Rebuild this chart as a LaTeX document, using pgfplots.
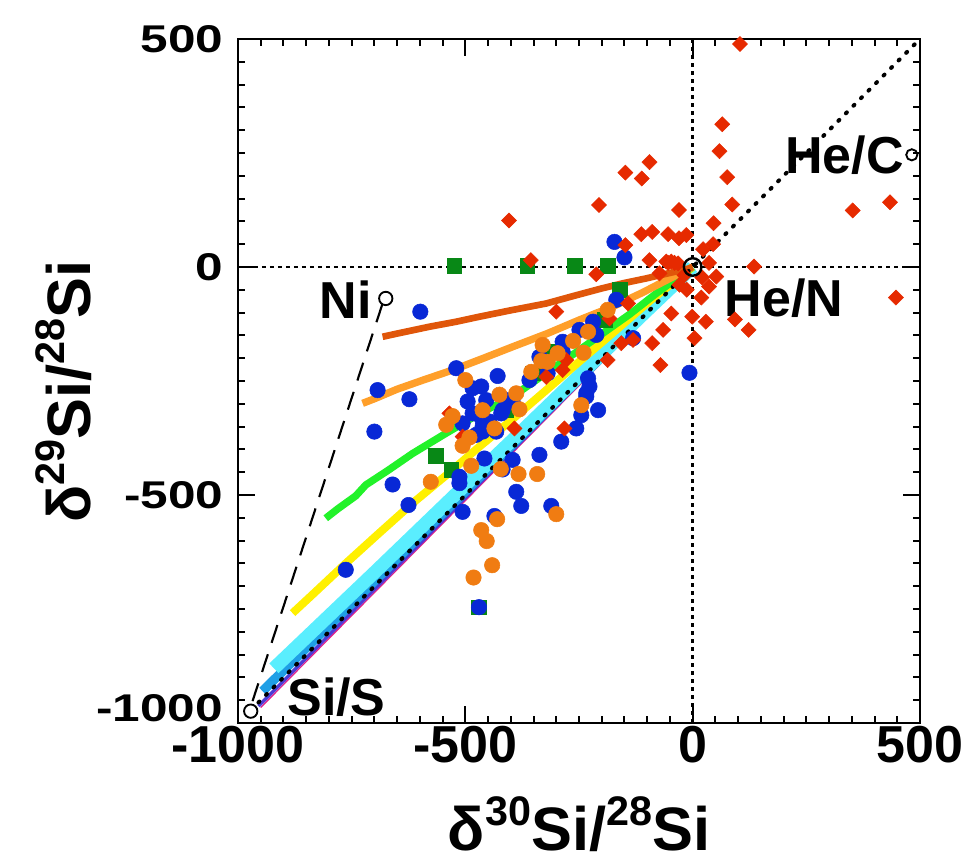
\documentclass[border=0pt]{standalone}
\usepackage{fontspec}
\setmainfont{Liberation Sans}
\usepackage{pgfplots}
\pgfplotsset{compat=1.18}
\usetikzlibrary{calc}
\definecolor{redc}{RGB}{230,42,0}
\definecolor{bluec}{RGB}{8,40,214}
\definecolor{orangec}{RGB}{240,124,18}
\definecolor{greenc}{RGB}{8,136,22}
\definecolor{ldorange}{RGB}{224,86,10}
\definecolor{lorange}{RGB}{255,159,42}
\definecolor{lgreen}{RGB}{34,242,42}
\definecolor{lyellow}{RGB}{255,240,0}
\definecolor{lcyan}{RGB}{90,238,254}
\definecolor{lblue}{RGB}{31,159,230}
\definecolor{lpurple}{RGB}{74,60,214}
\definecolor{lmagenta}{RGB}{224,32,138}

\newcommand{\tickfont}{\fontsize{39pt}{39pt}\selectfont\bfseries}
\newcommand{\yfont}{\fontsize{29pt}{29pt}\selectfont\bfseries}
\newcommand{\labfont}{\fontsize{46pt}{46pt}\selectfont\bfseries}
\newcommand{\annfont}{\fontsize{39pt}{39pt}\selectfont\bfseries}
\newcommand{\isup}[1]{\raisebox{0.42em}{\fontsize{31pt}{31pt}\selectfont #1}}
\newcommand{\wide}[1]{\scalebox{1.28}[1]{#1}}

\begin{document}
\begin{tikzpicture}
\begin{axis}[
    scale only axis, width=511.5pt, height=513pt,
    xmin=-1000, xmax=500, ymin=-1000, ymax=500,
    xtick={-1000,-500,0,500},
    ytick={-1000,-500,0,500},
    xticklabels={-1000,-500,0,500},
    yticklabels={\raisebox{11pt}[\height][\depth]{\wide{-1000}},\wide{-500},\wide{0},\wide{500}},
    minor x tick num=9, minor y tick num=9,
    tick pos=both, tick align=inside,
    major tick length=12.75pt, minor tick length=5.5pt,
    every tick/.style={black, line width=1.5pt},
    axis line style={line width=2.2pt},
    xticklabel style={font=\tickfont, anchor=center, inner sep=0pt, yshift=-16pt},
    yticklabel style={font=\yfont, anchor=east, inner sep=0pt, xshift=-11pt},
    xlabel={δ\isup{30}Si/\isup{28}Si},
    ylabel={δ\isup{29}Si/\isup{28}Si},
    xlabel style={font=\labfont, at={(axis description cs:0.5,0)}, anchor=base, yshift=-96pt},
    ylabel style={font=\labfont, at={(axis description cs:-0.217,0.484)}, anchor=base},
    clip=false,
]
\coordinate (SW) at (rel axis cs:0,0);
\coordinate (NE) at (rel axis cs:1,1);

% reference lines
\addplot[black, line width=2pt, dash pattern=on 3pt off 3pt] coordinates {(-1000,0) (500,0)};
\addplot[black, line width=2pt, dash pattern=on 3pt off 3pt] coordinates {(0,-1000) (0,500)};

% green squares
\addplot[only marks, mark=square*, mark size=5.5pt, mark options={fill=greenc, draw=greenc}] coordinates {
(-524,2) (-364,2) (-260,2) (-187,2) (-161,-50) (-194,-116) (-315,-186) (-352,-233)
(-410,-314) (-565,-414) (-531,-445) (-470,-746)
};

% blue circles
\addplot[only marks, mark=*, mark size=5.8pt, mark options={fill=bluec, draw=bluec}] coordinates {
(-599,-98) (-693,-270) (-623,-290) (-700,-361) (-660,-477) (-625,-522) (-763,-664)
(-150,21) (-172,55)
(-520,-222) (-429,-239) (-465,-262) (-484,-266) (-495,-295) (-484,-321) (-462,-336)
(-447,-339) (-432,-361) (-462,-361) (-476,-368) (-506,-343) (-418,-314) (-396,-295)
(-337,-197) (-319,-233) (-286,-164) (-249,-138) (-219,-120) (-212,-149) (-168,-72)
(-131,-156) (-230,-244) (-234,-277) (-245,-325) (-208,-314) (-256,-354) (-289,-383)
(-337,-412) (-396,-423) (-388,-493) (-458,-420) (-513,-460) (-7,-232)
(-418,-444) (-513,-474) (-377,-524) (-311,-524) (-506,-537) (-436,-546) (-470,-746)
(-454,-292) (-469,-325) (-421,-321) (-462,-350) (-359,-248) (-286,-186) (-227,-262)
(-234,-284) (-410,-292)
};

% red diamonds
\addplot[only marks, mark=square*, mark size=4pt, mark options={rotate=45, fill=redc, draw=redc}] coordinates {
(104,489) (65,313) (59,254) (76,197) (87,137) (46,96) (45,50) (23,39) (36,9) (135,1)
(52,-21) (36,-43) (21,-23) (19,-67) (29,-120) (93,-115) (123,-138) (352,124) (434,142)
(447,-67)
(-95,230) (-148,207) (-112,194) (-206,136) (-30,125) (-113,72) (-89,77) (-54,72)
(-30,63) (-14,70) (-148,48) (-95,15) (-54,9) (-40,9) (-212,-16) (-73,-14)
(-404,102) (-356,15) (-300,-98)
(-13,-50) (-47,-102) (-1,-109) (-65,-138) (4,-156) (-89,-167) (-131,-160) (-71,-215)
(-187,-204) (-142,-80) (-183,-113)
(-278,-204) (-286,-226) (-322,-241) (-282,-354) (-535,-321) (-506,-372) (-392,-354)
(-157,-167)
(-58,12) (-47,12) (-32,8) (-18,-18) (-29,-39)
};

% orange circles
\addplot[only marks, mark=*, mark size=5.8pt, mark options={fill=orangec, draw=orangec}] coordinates {
(-330,-171) (-230,-142) (-263,-162) (-187,-94) (-240,-188) (-297,-189) (-333,-206)
(-319,-208) (-355,-230) (-500,-248) (-425,-280) (-462,-314) (-528,-327) (-542,-346)
(-436,-354) (-491,-374) (-506,-392) (-388,-277) (-381,-312) (-245,-303) (-576,-471)
(-487,-436) (-422,-443) (-383,-454) (-342,-454) (-430,-553) (-300,-542) (-465,-577)
(-453,-601) (-441,-654) (-482,-681)
};

% model lines
\addplot[lmagenta, line width=1pt] coordinates {(-950,-966) (0,-8)};
\addplot[lpurple, line width=2.5pt] coordinates {(-955,-963) (0,-4)};
\addplot[lblue, line width=7pt] coordinates {(-946,-930) (-700,-689) (-500,-492) (-300,-295) (-100,-98) (0,0)};
\addplot[lcyan, line width=10pt] coordinates {(-921,-880) (-800,-765) (-700,-670) (-600,-574) (-500,-478) (-400,-383) (-300,-287) (-200,-191) (-100,-95) (0,0)};
\addplot[lyellow, line width=6pt] coordinates {(-880,-759) (-840,-722) (-763,-650) (-690,-584) (-616,-518) (-540,-455) (-469,-394) (-400,-337) (-322,-270) (-250,-208) (-176,-145) (-95,-75) (-40,-32) (0,0)};
\addplot[lgreen, line width=5.5pt] coordinates {(-807,-551) (-780,-530) (-741,-502) (-719,-478) (-670,-446) (-616,-409) (-543,-365) (-470,-322) (-396,-284) (-330,-238) (-249,-182) (-190,-140) (-139,-104) (-80,-58) (-30,-21) (0,0)};
\addplot[lorange, line width=5.5pt] coordinates {(-726,-299) (-700,-289) (-650,-268) (-590,-247) (-528,-226) (-460,-200) (-396,-175) (-320,-146) (-249,-116) (-176,-87) (-110,-56) (-50,-25) (-14,-7) (0,0)};
\addplot[ldorange, line width=5pt] coordinates {(-682,-153) (-650,-146) (-579,-131) (-520,-120) (-469,-109) (-400,-95) (-322,-80) (-260,-63) (-200,-47) (-150,-35) (-102,-25) (-50,-13) (-7,-3) (0,0)};

% 1:1 line and Ni mixing line
\addplot[black, line width=3pt, line cap=round, dash pattern=on 1pt off 7pt] coordinates {(-955,-955) (500,500)};
\addplot[black, line width=1.6pt, dash pattern=on 14pt off 9pt] coordinates {(-968,-952) (-682,-80)};

% compositions of the zones
\addplot[only marks, mark=o, mark size=6.6pt, mark options={black, line width=1.8pt}] coordinates {(0,0)};
\addplot[only marks, mark=o, mark size=5pt, mark options={black, line width=1.4pt}] coordinates {(-675,-69) (-972,-974)};
\addplot[only marks, mark=o, mark size=4.2pt, mark options={black, line width=1.4pt}] coordinates {(482,246)};

\node[font=\annfont, anchor=east, inner sep=0pt] at (axis cs:465,246) {He/C};
\node[font=\annfont, anchor=west, inner sep=0pt] at (axis cs:70,-68) {He/N};
\node[font=\annfont, anchor=east, inner sep=0pt] at (axis cs:-705,-72) {Ni};
\node[font=\annfont, anchor=west, inner sep=0pt] at (axis cs:-892,-943) {Si/S};
\end{axis}
\pgfresetboundingbox
\path ($(SW)+(-178.5pt,-104.25pt)$) rectangle ($(NE)+(35.25pt,29.25pt)$);
\end{tikzpicture}
\end{document}
